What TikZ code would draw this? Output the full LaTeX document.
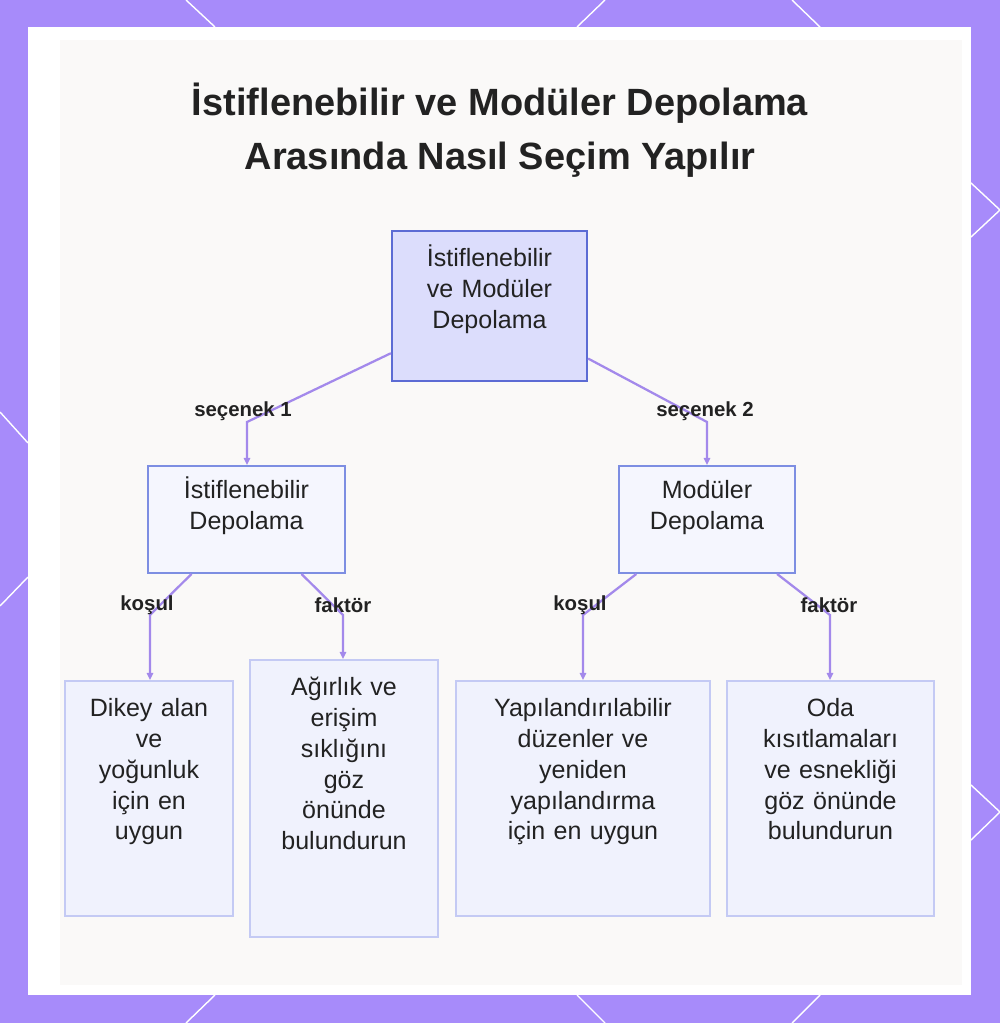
\documentclass[tikz,border=0pt]{standalone}
\usepackage{fontspec}
\setmainfont{Liberation Sans}
\usetikzlibrary{positioning, arrows.meta, calc}
\definecolor{frame}{RGB}{167,139,250}
\definecolor{ink}{RGB}{34,34,34}
\definecolor{linkc}{RGB}{163,137,235}
\definecolor{rootfill}{RGB}{220,221,252}
\definecolor{rootline}{RGB}{92,107,212}
\definecolor{midfill}{RGB}{245,246,254}
\definecolor{midline}{RGB}{125,142,226}
\definecolor{leaffill}{RGB}{240,242,253}
\definecolor{leafline}{RGB}{196,202,244}
\definecolor{haze}{RGB}{250,249,248}

\begin{document}
\begin{tikzpicture}[x=0.025cm, y=-0.025cm,
    box/.style={anchor=north, align=center, text=ink, inner xsep=0pt, inner ysep=12pt,
                text height=13pt, line width=1.5pt, font=\fontsize{17.8}{22}\selectfont},
    top/.style={box, draw=rootline, fill=rootfill},
    mid/.style={box, draw=midline, fill=midfill, inner ysep=10pt},
    leaf/.style={box, draw=leafline, fill=leaffill},
    lbl/.style={font=\bfseries\fontsize{14.5}{17}\selectfont, text=ink, inner sep=1pt},
    link/.style={linkc, line width=1.6pt, -{Triangle[length=5pt, width=4.5pt]}},
    cut/.style={white, line width=1pt}]
  \useasboundingbox (0,0) rectangle (1000,1023);
  % frame and panel
  \fill[frame] (0,0) rectangle (1000,1023);
  \draw[cut] (186,0) -- (215,27); \draw[cut] (605,0) -- (577,27); \draw[cut] (792,0) -- (820,27);
  \draw[cut] (215,995) -- (186,1023); \draw[cut] (577,995) -- (605,1023); \draw[cut] (820,995) -- (792,1023);
  \draw[cut] (0,412) -- (28,443); \draw[cut] (28,577) -- (0,606);
  \draw[cut] (971,183) -- (1000,210) -- (971,237); \draw[cut] (971,785) -- (1000,812) -- (971,840);
  \fill[white] (28,27) rectangle (971,995);
  \fill[haze] (60,40) rectangle (962,985);
  \node[font=\bfseries\fontsize{27}{38.4}\selectfont, text=ink, align=center] (title) at (500,130)
    {İstiflenebilir ve Modüler Depolama\\Arasında Nasıl Seçim Yapılır};

  % boxes
  \node[top, text width=138.7pt, text depth=69.7pt] (root) at (489.5,230) {İstiflenebilir\\ve Modüler\\Depolama};
  \node[mid, text width=140.1pt, text depth=43pt] (stack) at (246.5,465) {İstiflenebilir\\Depolama};
  \node[mid, text width=125.2pt, text depth=43pt] (modular) at (707,465) {Modüler\\Depolama};
  \node[leaf, text width=119.5pt, text depth=130.2pt] (cond1) at (149,680) {Dikey alan\\ve\\yoğunluk\\için en\\uygun};
  \node[leaf, text width=133.7pt, text depth=160pt] (fac1) at (344,659) {Ağırlık ve\\erişim\\sıklığını\\göz\\önünde\\bulundurun};
  \node[leaf, text width=180.7pt, text depth=130.2pt] (cond2) at (583,680) {Yapılandırılabilir\\düzenler ve\\yeniden\\yapılandırma\\için en uygun};
  \node[leaf, text width=147.2pt, text depth=130.2pt] (fac2) at (830.5,680) {Oda\\kısıtlamaları\\ve esnekliği\\göz önünde\\bulundurun};

  % connectors
  \coordinate (b1) at (247,422); \coordinate (b2) at (707,422);
  \coordinate (b3) at (150,615); \coordinate (b4) at (343,615);
  \coordinate (b5) at (583,615); \coordinate (b6) at (830,615);
  \draw[link] (root) -- (b1) -- (b1 |- stack.north);
  \draw[link] (root) -- (b2) -- (b2 |- modular.north);
  \draw[link] (stack) -- (b3) -- (b3 |- cond1.north);
  \draw[link] (stack) -- (b4) -- (b4 |- fac1.north);
  \draw[link] (modular) -- (b5) -- (b5 |- cond2.north);
  \draw[link] (modular) -- (b6) -- (b6 |- fac2.north);
  \node[lbl] (l1) at (243,411) {seçenek 1};
  \node[lbl] (l2) at (705,411) {seçenek 2};
  \node[lbl] (l3) at (147,605) {koşul};
  \node[lbl] (l4) at (343,605) {faktör};
  \node[lbl] (l5) at (580,605) {koşul};
  \node[lbl] (l6) at (829,605) {faktör};
\end{tikzpicture}
\end{document}
